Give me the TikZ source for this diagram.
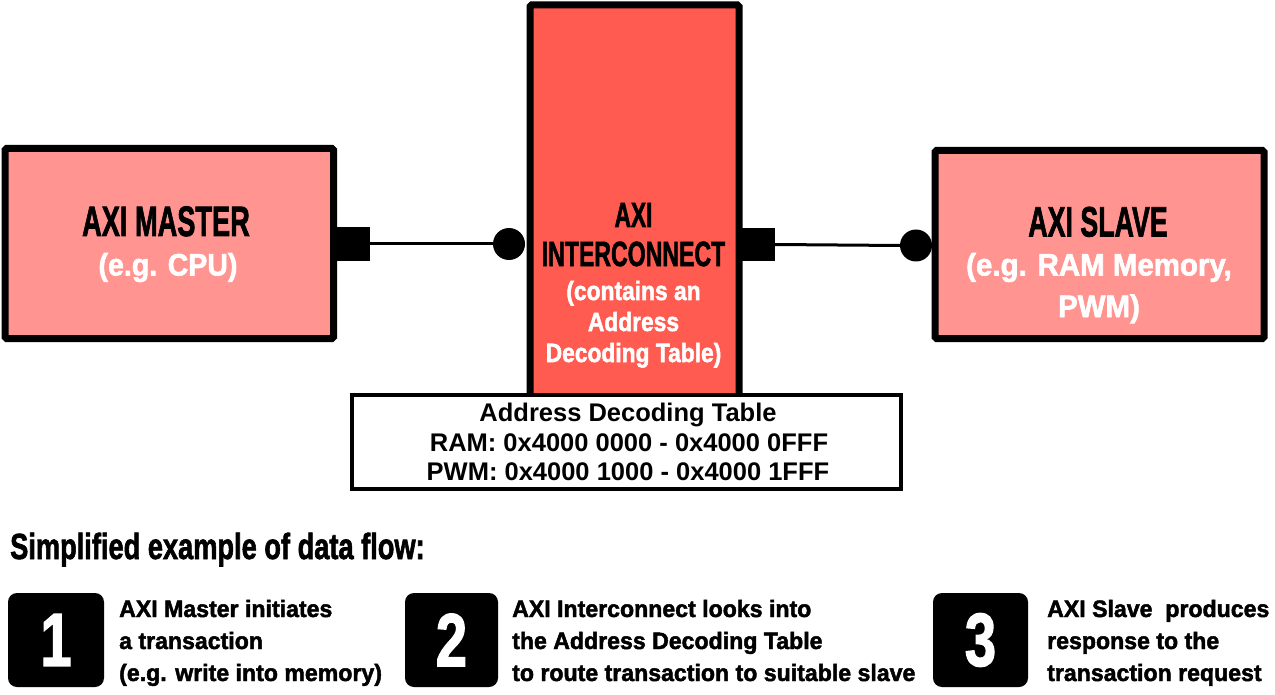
\documentclass[tikz,border=0pt]{standalone}
\usepackage{fontspec}
\usepackage{graphicx}
\newfontfamily\imp{Liberation Sans Bold}[FakeBold=2]
\newfontfamily\arb{Liberation Sans Bold}
\definecolor{lightred}{RGB}{255,148,145}
\definecolor{midred}{RGB}{255,91,80}
\newcommand\sx[2]{\scalebox{#1}[1]{#2}}
\newcommand\fs[1]{\fontsize{#1}{#1}\selectfont}
\begin{document}
\begin{tikzpicture}[x=1pt,y=-1pt,
  box/.style={draw=black, line width=7pt, rounded corners=1.5pt, inner sep=0pt, outer sep=0pt},
  port/.style={fill=black, draw=none, inner sep=0pt, outer sep=0pt},
  dot/.style={circle, fill=black, draw=none, inner sep=0pt, outer sep=0pt, minimum size=32pt},
  conn/.style={line width=3pt},
  txt/.style={inner sep=0pt, anchor=base},
  ltxt/.style={inner sep=0pt, anchor=base west},
  stepbox/.style={fill=black, draw=none, rounded corners=9pt, inner sep=0pt, minimum height=94pt},
  digit/.style={text=white, font=\imp\fs{75}, inner sep=0pt},
  steptxt/.style={ltxt, font=\imp\fs{23.7}}]
\useasboundingbox (0,0) rectangle (1275,695);
% ---- master
\node[box, fill=lightred, minimum width=328.5pt, minimum height=190pt] (master) at (169.25,243.5) {};
\node[txt, font=\imp\fs{42.5}] (mtitle) at (166,236) {\sx{0.64}{AXI MASTER}};
\node[txt, font=\imp\fs{31}, text=white] (msub) at (168,275.5) {\sx{0.92}{(e.g. CPU)}};
\node[port, minimum width=37pt, minimum height=34pt] (mport) at (351.5,244) {};
% ---- interconnect
\node[dot] (icin) at (509,244) {};
\node[box, fill=midred, minimum width=209pt, minimum height=395pt] (ic) at (634.5,202.5) {};
\draw[conn] (mport.east) -- (icin.west);
\node[txt, font=\imp\fs{35}] (ict1) at (633.5,227) {\sx{0.65}{AXI}};
\node[txt, font=\imp\fs{35}] (ict2) at (633.5,266) {\sx{0.66}{INTERCONNECT}};
\node[txt, font=\imp\fs{26.5}, text=white] (ics1) at (633.5,300) {\sx{0.86}{(contains an}};
\node[txt, font=\imp\fs{26.5}, text=white] (ics2) at (633.5,331) {\sx{0.86}{Address}};
\node[txt, font=\imp\fs{26.5}, text=white] (ics3) at (633.5,362) {\sx{0.86}{Decoding Table)}};
\node[port, minimum width=36pt, minimum height=33pt] (icport) at (757,244.5) {};
% ---- slave
\node[dot] (slin) at (916,245.5) {};
\draw[conn] (icport.east) -- (slin.west);
\node[box, fill=lightred, minimum width=329pt, minimum height=188pt] (slave) at (1099.5,244.5) {};
\node[txt, font=\imp\fs{42.5}] (stitle) at (1098,236.5) {\sx{0.63}{AXI SLAVE}};
\node[txt, font=\imp\fs{31}, text=white] (ssub1) at (1099,275.5) {\sx{0.95}{(e.g. RAM Memory,}};
\node[txt, font=\imp\fs{31}, text=white] (ssub2) at (1099,317) {\sx{0.95}{PWM)}};
% ---- table
\node[draw=black, line width=4pt, fill=white, inner sep=0pt, minimum width=549pt, minimum height=94pt] (table) at (626.5,442) {};
\node[txt, font=\arb\fs{25.5}] (t1) at (628,421) {Address Decoding Table};
\node[txt, font=\arb\fs{25.5}] (t2) at (629,451) {RAM: 0x4000 0000 - 0x4000 0FFF};
\node[txt, font=\arb\fs{25.5}] (t3) at (628,480) {PWM: 0x4000 1000 - 0x4000 1FFF};
% ---- bottom
\node[ltxt, font=\imp\fs{36.3}] (flow) at (10,559) {\sx{0.75}{Simplified example of data flow:}};
\node[stepbox, minimum width=96pt] (sq1) at (56,640) {};
\node[digit] (n1) at (sq1.center) {\sx{0.75}{1}};
\node[steptxt] (s1a) at (119,617) {\sx{0.975}{AXI Master initiates}};
\node[steptxt] (s1b) at (119,649) {\sx{0.975}{a transaction}};
\node[steptxt] (s1c) at (119,681) {\sx{0.975}{(e.g. write into memory)}};
\node[stepbox, minimum width=93pt] (sq2) at (451.5,640) {};
\node[digit] (n2) at (sq2.center) {\sx{0.75}{2}};
\node[steptxt] (s2a) at (512,617) {\sx{0.975}{AXI Interconnect looks into}};
\node[steptxt] (s2b) at (512,649) {\sx{0.975}{the Address Decoding Table}};
\node[steptxt] (s2c) at (512,681) {\sx{0.975}{to route transaction to suitable slave}};
\node[stepbox, minimum width=95pt] (sq3) at (980.5,640) {};
\node[digit] (n3) at (sq3.center) {\sx{0.75}{3}};
\node[steptxt] (s3a) at (1047,617) {\sx{0.975}{AXI Slave~ produces}};
\node[steptxt] (s3b) at (1047,649) {\sx{0.975}{response to the}};
\node[steptxt] (s3c) at (1047,681) {\sx{0.975}{transaction request}};
\end{tikzpicture}
\end{document}
